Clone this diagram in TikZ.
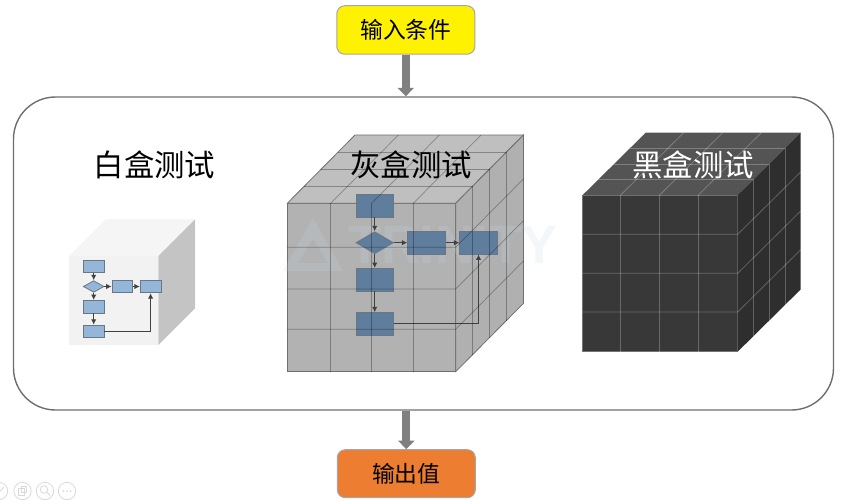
\documentclass[tikz,border=0pt]{standalone}
\usepackage{fontspec}
\setmainfont{Noto Sans CJK SC}
\newfontfamily\markfont{Liberation Sans}
\usetikzlibrary{arrows.meta,shapes.geometric,calc}
\definecolor{framegray}{HTML}{6E6E6E}
\definecolor{cubeline}{HTML}{6F6F6F}
\definecolor{whitebox}{HTML}{94B6D8}
\definecolor{graybox}{HTML}{5F7E9E}
\definecolor{boxedge}{HTML}{6A7783}
\definecolor{startorange}{HTML}{ED7D31}
\definecolor{markblue}{HTML}{C8D8E8}
\definecolor{icongray}{HTML}{D9D9D9}
\tikzset{
	title/.style={font=\fontsize{30.4pt}{30pt}\selectfont, inner sep=0pt},
	startbox/.style={draw=gray!70, line width=1pt, rounded corners=8pt, minimum width=138pt, font=\fontsize{22.8pt}{23pt}\selectfont, inner sep=0pt},
	bigarrow/.style={draw=gray, line width=8pt, -{Triangle[length=8.5pt, width=16pt]}},
	graystep/.style={fill=graybox, draw=boxedge, line width=0.8pt, minimum width=37.5pt, minimum height=22.5pt, inner sep=0pt},
	graydec/.style={diamond, aspect=1.68, fill=graybox, draw=boxedge, line width=0.8pt, minimum width=37.5pt, minimum height=22pt, inner sep=0pt},
	whitestep/.style={fill=whitebox, draw=boxedge, line width=0.8pt, minimum width=20.7pt, minimum height=12.5pt, inner sep=0pt},
	whitedec/.style={diamond, aspect=1.76, fill=whitebox, draw=boxedge, line width=0.8pt, minimum width=20.7pt, minimum height=11.7pt, inner sep=0pt},
	flow/.style={draw=black!75, line width=1.1pt, -{Latex[length=5.5pt, width=5.5pt]}},
	grayline/.style={draw=black, draw opacity=0.3, line width=0.7pt},
	darkline/.style={draw=white, draw opacity=0.25, line width=0.8pt},
	icon/.style={draw=icongray, line width=0.8pt},
}
\begin{document}
\begin{tikzpicture}[x=1pt, y=-1pt, >=latex]
	\useasboundingbox (0,0) rectangle (848,500);

	% Rahmen
	\node[draw=framegray, line width=1.4pt, rounded corners=42pt, minimum width=820pt, minimum height=313pt, inner sep=0pt](frame) at (423.5,253.5) {};

	\node[startbox, fill=yellow, minimum height=48.5pt](input) at (405.8,30) {输入条件};
	\node[startbox, fill=startorange, minimum height=48pt](output) at (406.3,473.7) {输出值};

	\draw[bigarrow] (input.south) -- (input.south |- frame.north);
	\draw[bigarrow] (output.north |- frame.south) -- (output.north);

	% weisser Wuerfel
	\fill[black!5] (69,256) -- (158.3,256) -- (158.3,345) -- (69,345) -- cycle;
	\fill[black!4] (69,256) -- (105.7,219.3) -- (195,219.3) -- (158.3,256) -- cycle;
	\fill[black!23] (158.3,256) -- (195,219.3) -- (195,308.3) -- (158.3,345) -- cycle;

	\node[whitestep](wa) at (93.7,266.2) {};
	\node[whitedec](wb) at (93.7,286.5) {};
	\node[whitestep](wc) at (122.4,286.5) {};
	\node[whitestep](wd) at (150.6,286.5) {};
	\node[whitestep](we) at (93.7,306.7) {};
	\node[whitestep](wf) at (93.7,331.4) {};

	\draw[flow] (wa) -- (wb);
	\draw[flow] (wb) -- (wc);
	\draw[flow] (wc) -- (wd);
	\draw[flow] (wb) -- (we);
	\draw[flow] (we) -- (wf);
	\draw[flow] (wf.east) -| (wd.south);

	% grauer Wuerfel
	\fill[black!30, draw=cubeline, line width=0.8pt] (287.3,203.3) -- (455.7,203.3) -- (455.7,371.7) -- (287.3,371.7) -- cycle;
	\fill[black!25, draw=cubeline, line width=0.8pt] (287.3,203.3) -- (355,135) -- (523.4,135) -- (455.7,203.3) -- cycle;
	\fill[black!31, draw=cubeline, line width=0.8pt] (455.7,203.3) -- (523.4,135) -- (523.4,303.4) -- (455.7,371.7) -- cycle;

	% Wasserzeichen
	\fill[markblue, fill opacity=0.2, even odd rule] (313,218) -- (343,271) -- (283,271) -- cycle (313,238) -- (328,263) -- (298,263) -- cycle;
	\node[text=markblue, text opacity=0.2, font=\markfont\bfseries\fontsize{54pt}{54pt}\selectfont, inner sep=0pt](mark) at (453,245) {TRINITY};

	\node[graystep](ga) at (374.7,205.7) {};
	\node[graydec](gb) at (374.7,242.7) {};
	\node[graystep](gc) at (426.5,242.7) {};
	\node[graystep](gd) at (478.5,242.7) {};
	\node[graystep](ge) at (374.7,279.7) {};
	\node[graystep](gf) at (374.7,323.9) {};

	\draw[flow] (ga) -- (gb);
	\draw[flow] (gb) -- (gc);
	\draw[flow] (gc) -- (gd);
	\draw[flow] (gb) -- (ge);
	\draw[flow] (ge) -- (gf);
	\draw[flow] (gf.east) -| (gd.south);

	% vertikale Linien
	\draw[grayline] (330.7,203.3) -- (330.7,371.7);
	\draw[grayline] (371.7,203.3) -- (371.7,371.7);
	\draw[grayline] (413.3,203.3) -- (413.3,371.7);
	\draw[grayline] (472.6,186.2) -- (472.6,354.6);
	\draw[grayline] (489.5,169.2) -- (489.5,337.5);
	\draw[grayline] (506.4,152.1) -- (506.4,320.5);
	% horizontale Linien
	\draw[grayline] (287.3,247.3) -- (455.7,247.3) -- (523.4,179);
	\draw[grayline] (287.3,289) -- (455.7,289) -- (523.4,220.7);
	\draw[grayline] (287.3,329.3) -- (455.7,329.3) -- (523.4,261);
	% Deckel
	\draw[grayline] (330.7,203.3) -- (398.4,135);
	\draw[grayline] (371.7,203.3) -- (439.4,135);
	\draw[grayline] (413.3,203.3) -- (481,135);
	\draw[grayline] (304.2,186.2) -- (472.6,186.2);
	\draw[grayline] (321.2,169.2) -- (489.5,169.2);
	\draw[grayline] (338.1,152.1) -- (506.4,152.1);

	% schwarzer Wuerfel
	\fill[black!78, draw=black!55, line width=0.8pt] (582.7,195) -- (737.7,195) -- (737.7,351.7) -- (582.7,351.7) -- cycle;
	\fill[black!67] (582.7,195) -- (645.7,132.7) -- (800.7,132.7) -- (737.7,195) -- cycle;
	\fill[black!82] (737.7,195) -- (800.7,132.7) -- (800.7,289.4) -- (737.7,351.7) -- cycle;

	\draw[darkline] (620.7,195) -- (620.7,351.7);
	\draw[darkline] (659.7,195) -- (659.7,351.7);
	\draw[darkline] (698.3,195) -- (698.3,351.7);
	\draw[darkline] (753.4,179.4) -- (753.4,336.1);
	\draw[darkline] (769.2,163.9) -- (769.2,320.6);
	\draw[darkline] (785,148.3) -- (785,305);
	\draw[darkline] (582.7,234.3) -- (737.7,234.3) -- (800.7,172);
	\draw[darkline] (582.7,273.3) -- (737.7,273.3) -- (800.7,211);
	\draw[darkline] (582.7,312) -- (737.7,312) -- (800.7,249.7);
	\draw[darkline] (620.7,195) -- (683.7,132.7);
	\draw[darkline] (659.7,195) -- (722.7,132.7);
	\draw[darkline] (698.3,195) -- (761.3,132.7);
	\draw[darkline] (598.4,179.4) -- (753.4,179.4);
	\draw[darkline] (614.2,163.9) -- (769.2,163.9);
	\draw[darkline] (630,148.3) -- (785,148.3);

	\node[title](tw) at (154.5,165) {白盒测试};
	\node[title](tg) at (411,165) {灰盒测试};
	\node[title, text=white](tb) at (693,165) {黑盒测试};

	% Symbole unten links
	\draw[icon] (-1,491) circle (8.7);
	\draw[icon] (-3,495) -- (4,487);
	\draw[icon] (22.5,491) circle (8.7);
	\draw[icon] (18.5,488) rectangle (24,495);
	\draw[icon] (21,486) rectangle (26.5,492);
	\draw[icon] (45,491) circle (8.7);
	\draw[icon] (44,489.5) circle (3.8);
	\draw[icon] (46.8,492.3) -- (50,495.5);
	\draw[icon] (67,491) circle (8.7);
	\fill[icongray] (63.5,491) circle (1) (67,491) circle (1) (70.5,491) circle (1);
\end{tikzpicture}
\end{document}
